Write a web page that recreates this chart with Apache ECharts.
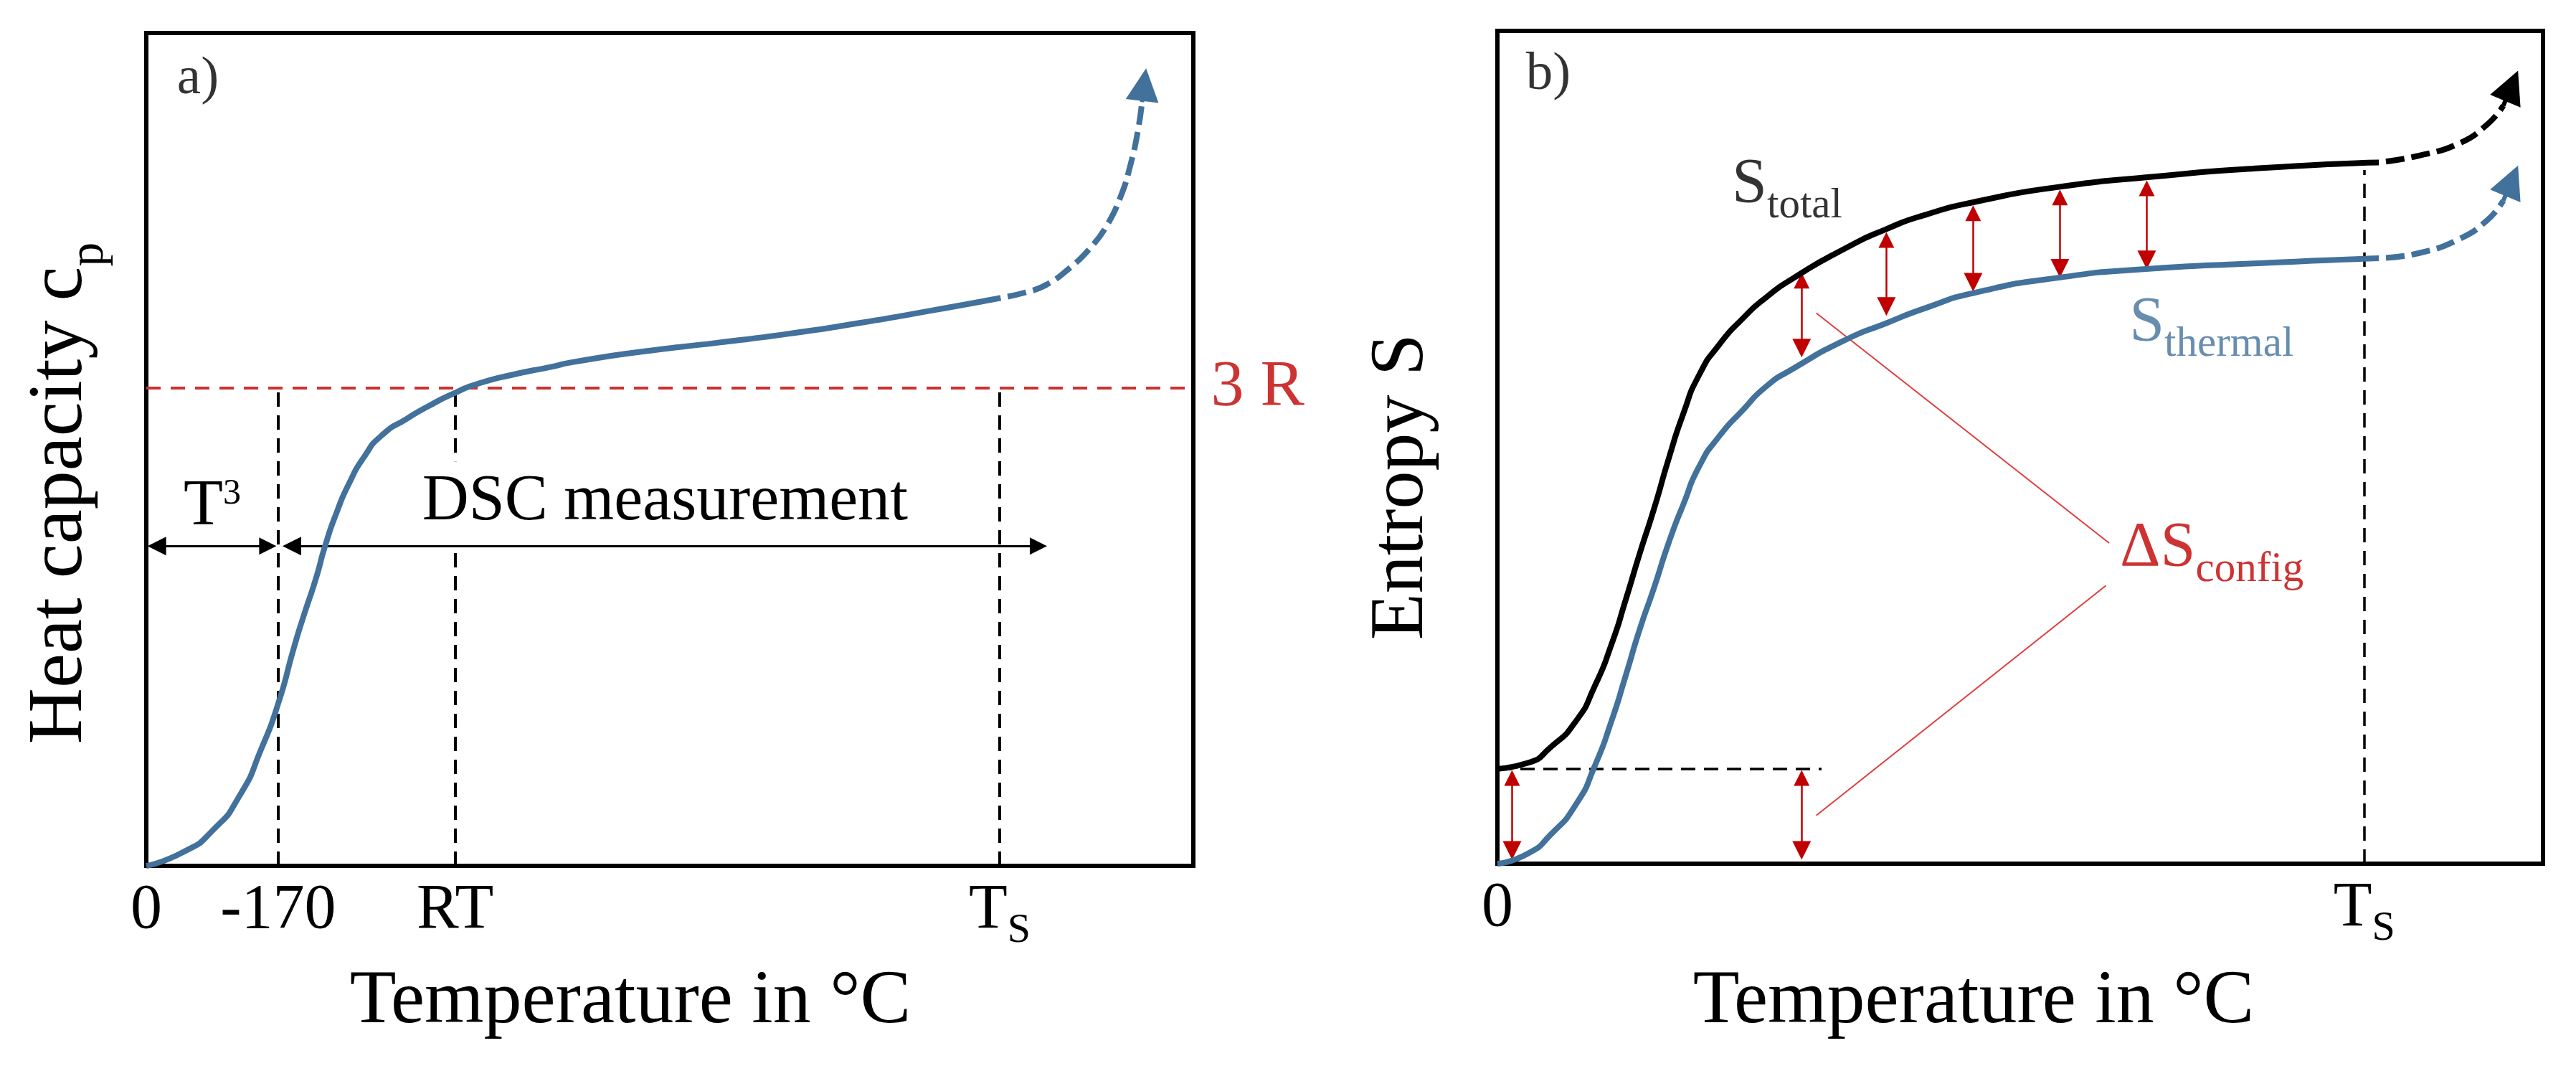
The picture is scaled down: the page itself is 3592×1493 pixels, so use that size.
<!DOCTYPE html>
<html>
<head>
<meta charset="utf-8">
<title>Heat capacity and entropy</title>
<script src="https://cdn.jsdelivr.net/npm/echarts@6/dist/echarts.min.js"></script>
<style>
  html, body { margin: 0; padding: 0; background: #fff; }
  #main { width: 3592px; height: 1493px; }
</style>
</head>
<body>
<div id="main"></div>
<script>
// both panels are schematic: axes run 0..100 with no real scale

// a) heat capacity
let cpX = [0, 3.6, 6.3, 8.9, 11.0, 12.6, 14.1, 15.0, 16.2, 17.1, 18.2, 19.4, 20.8, 22.5, 24.9, 27.1, 29.5, 31.7, 35.1, 38.6, 40.8, 47.7, 54.5, 61.4, 68.2, 75.1, 81.6]
let cpY = [0, 1.7, 4.2, 8.4, 14.1, 19.5, 26.2, 29.9, 34.5, 38.5, 42.5, 46.0, 49.1, 51.7, 53.7, 55.3, 56.8, 57.9, 59.0, 59.9, 60.5, 61.8, 62.8, 63.9, 65.2, 66.7, 68.2]
let cpDashX = [81.6, 83.8, 86.0, 88.3, 90.1, 91.7, 93.1, 94.0, 94.7, 95.1]
let cpDashY = [68.2, 68.8, 69.8, 71.9, 74.1, 76.8, 80.5, 84.2, 88.2, 91.7]
let cpHead = [[95.1, 91.7], [95.3, 93.8]]
let cpTicks = [0, 12.6, 29.5, 81.5]
let cpTickLabels = ['0', '-170', 'RT', 'Ts']
let threeR = 57.4
let cpGuides = [
    [[12.6, 0], [12.6, 57.4]],
    [[29.5, 0], [29.5, 57.4]],
    [[81.5, 0], [81.5, 57.4]]
]
let rangeArrows = [
    {name: 'T3', coords: [[1.0, 38.4], [11.6, 38.4]]},
    {name: 'DSC', coords: [[13.9, 38.4], [85.2, 38.4]]}
]

// b) entropy
let sTotX = [0, 2.9, 5.1, 7.5, 9.3, 10.9, 12.3, 13.6, 15.0, 16.4, 17.8, 19.3, 21.2, 23.5, 25.7, 28.3, 33.3, 37.2, 40.9, 45.8, 53.9, 62.0, 72.8, 84.3]
let sTotY = [11.4, 12.1, 14.0, 17.1, 21.3, 26.3, 31.8, 37.2, 42.7, 48.7, 54.1, 58.7, 62.3, 65.5, 68.0, 70.3, 73.9, 76.2, 77.9, 79.5, 81.3, 82.4, 83.5, 84.2]
let sTotDashX = [84.3, 88.1, 92.0, 94.7, 96.2]
let sTotDashY = [84.2, 85.0, 86.5, 88.8, 91.0]
let sTotHead = [[96.2, 91.0], [97.0, 93.4]]
let sThX = [0, 2.9, 5.1, 7.5, 9.3, 10.9, 12.3, 13.6, 15.0, 16.4, 17.8, 19.3, 21.2, 23.5, 25.7, 28.1, 33.3, 37.2, 40.9, 45.8, 53.9, 62.0, 72.8, 84.3]
let sThY = [0, 1.2, 3.5, 7.1, 11.7, 17.1, 22.7, 28.1, 33.2, 38.6, 43.2, 47.7, 51.3, 54.5, 57.3, 59.3, 62.9, 64.9, 66.7, 68.6, 70.4, 71.4, 72.1, 72.7]
let sThDashX = [84.3, 88.1, 92.0, 94.7, 96.2]
let sThDashY = [72.7, 73.3, 75.0, 77.3, 79.6]
let sThHead = [[96.2, 79.6], [97.0, 82.0]]
let sTicks = [0, 82.9]
let sTickLabels = ['0', 'Ts']
let sGuides = [
    [[0, 11.4], [31.0, 11.4]],
    [[82.9, 0], [82.9, 83.3]]
]
// red double arrows: x, upper head, lower head
let dSx = [1.4, 29.1, 29.1, 37.2, 45.5, 53.8, 62.1]
let dSTop = [10.3, 10.3, 70.0, 74.9, 78.1, 80.0, 81.1]
let dSBottom = [1.6, 1.6, 61.9, 66.9, 69.8, 71.5, 72.5]
let pointers = [
    [[30.5, 66.1], [58.5, 38.5]],
    [[30.5, 5.8], [58.2, 33.4]]
]

// text notes
let notesA = [{text: 'a)', x: 2.9, y: 94.5}]
let notesB = [
    {text: 'b)', x: 2.7, y: 94.7},
    {text: 'Stotal', x: 22.4, y: 81.5},
    {text: 'Sthermal', x: 60.4, y: 64.9},
    {text: 'dSconfig', x: 59.5, y: 37.8}
]

const FONT = 'Liberation Serif'
const BLUE = '#42719b'
const RED = '#c00000'

function zip(xs, ys){
    return xs.map((x, i) => [x, ys[i]])
}

let subRich = {
    m: {fontFamily: FONT, fontSize: 88, lineHeight: 88},
    sub: {fontFamily: FONT, fontSize: 59, lineHeight: 59, padding: [59, 0, 0, 0]},
    p: {fontFamily: FONT, fontSize: 75}
}
let noteText = {
    'a)': '{p|a)}',
    'b)': '{p|b)}',
    'Stotal': '{m|S}{sub|total}',
    'Sthermal': '{m|S}{sub|thermal}',
    'dSconfig': '{m|\u0394S}{sub|config}'
}
let noteColor = {'Sthermal': BLUE, 'dSconfig': RED}

function tickFormatter(ticks, labels){
    return function(v){
        let i = ticks.findIndex(t => Math.abs(t - v) < 1e-6)
        let lab = labels[i]
        if(lab === 'Ts') return '{t|T}{s|S}'
        return '{n|' + lab + '}'
    }
}
let tickRich = {
    n: {fontFamily: FONT, fontSize: 88, lineHeight: 114, color: '#000'},
    t: {fontFamily: FONT, fontSize: 88, lineHeight: 114, color: '#000'},
    s: {fontFamily: FONT, fontSize: 58, lineHeight: 58, padding: [56, 0, 0, 0], color: '#000'}
}

function xAxisOf(gridIndex, ticks, labels, gap, shift){
    return {
        type: 'value', gridIndex: gridIndex, min: 0, max: 100,
        axisLine: {show: false}, axisTick: {show: false}, splitLine: {show: false},
        axisLabel: {
            customValues: ticks, margin: 6,
            formatter: tickFormatter(ticks, labels), rich: tickRich
        },
        name: 'Temperature in \u00b0C', nameLocation: 'middle', nameGap: gap,
        nameTextStyle: {fontFamily: FONT, fontSize: 106, color: '#000', padding: [0, shift, 0, 0]}
    }
}

function yAxisOf(gridIndex, name, gap, shift, rich){
    return {
        type: 'value', gridIndex: gridIndex, min: 0, max: 100,
        axisLine: {show: false}, axisTick: {show: false}, splitLine: {show: false},
        axisLabel: {show: false},
        name: name, nameLocation: 'middle', nameRotate: 90, nameGap: gap,
        nameTextStyle: {fontFamily: FONT, fontSize: 106, color: '#000', padding: [0, shift, 0, 0], rich: rich}
    }
}

function curve(idx, pts, color, dashed){
    return {
        type: 'line', xAxisIndex: idx, yAxisIndex: idx,
        data: pts, smooth: dashed ? 0.5 : 0.65,
        symbol: 'none', silent: true,
        lineStyle: dashed
            ? {color: color, width: 8, type: [26, 10], dashOffset: 26}
            : {color: color, width: 8}
    }
}

function head(idx, coords, color){
    return {
        type: 'lines', coordinateSystem: 'cartesian2d', xAxisIndex: idx, yAxisIndex: idx,
        symbol: ['none', 'triangle'], symbolSize: [28, 46],
        lineStyle: {color: color, width: 6, opacity: 1},
        data: [{coords: coords}]
    }
}

function notes(idx, list){
    return {
        type: 'scatter', xAxisIndex: idx, yAxisIndex: idx,
        symbolSize: 1, itemStyle: {color: 'rgba(0,0,0,0)'}, silent: true,
        data: list.map(n => ({
            value: [n.x, n.y],
            label: {
                show: true, position: 'right', distance: 0,
                formatter: noteText[n.text], rich: subRich,
                color: noteColor[n.text] || '#000'
            }
        }))
    }
}

let myChart = echarts.init(document.getElementById('main'))

let option = {
    backgroundColor: '#fff',
    animation: false,
    grid: [
        {left: 204, top: 46, width: 1460, height: 1161, show: true, borderColor: '#000', borderWidth: 6, outerBoundsMode: 'none'},
        {left: 2088, top: 43, width: 1458, height: 1161, show: true, borderColor: '#000', borderWidth: 6, outerBoundsMode: 'none'}
    ],
    xAxis: [
        xAxisOf(0, cpTicks, cpTickLabels, 137, 110),
        xAxisOf(1, sTicks, sTickLabels, 140, 130)
    ],
    yAxis: [
        yAxisOf(0, '{m|Heat capacity c}{sub|p}', 65, 122, {
            m: {fontFamily: FONT, fontSize: 108, lineHeight: 108, color: '#000'},
            sub: {fontFamily: FONT, fontSize: 67, lineHeight: 67, padding: [80, 0, 0, 0], color: '#000'}
        }),
        yAxisOf(1, 'Entropy S', 80, 110)
    ],
    series: [
        // ---- a)
        {
            type: 'lines', coordinateSystem: 'cartesian2d', xAxisIndex: 0, yAxisIndex: 0,
            lineStyle: {color: '#000', width: 4, type: [20, 12], opacity: 1},
            data: cpGuides.map(c => ({coords: c}))
        },
        {
            type: 'lines', coordinateSystem: 'cartesian2d', xAxisIndex: 0, yAxisIndex: 0,
            clip: false,
            lineStyle: {color: '#d03030', width: 4, type: [20, 14], opacity: 1},
            data: [{coords: [[0, threeR], [100, threeR]]}]
        },
        {
            // "3 R" sits just outside the right edge of the frame
            type: 'scatter', xAxisIndex: 0, yAxisIndex: 0, clip: false,
            symbolSize: 1, itemStyle: {color: 'rgba(0,0,0,0)'}, silent: true,
            data: [[100, threeR]],
            label: {
                show: true, position: 'right', distance: 24, formatter: '3 R',
                fontFamily: FONT, fontSize: 92, color: RED, padding: [0, 0, 14, 0]
            }
        },
        curve(0, zip(cpX, cpY), BLUE, false),
        curve(0, zip(cpDashX, cpDashY), BLUE, true),
        head(0, cpHead, BLUE),
        {
            type: 'lines', coordinateSystem: 'cartesian2d', xAxisIndex: 0, yAxisIndex: 0,
            symbol: ['triangle', 'triangle'], symbolSize: [26, 24],
            lineStyle: {color: '#000', width: 3, opacity: 1},
            data: rangeArrows.map(a => ({
                coords: a.coords,
                label: a.name === 'T3'
                    ? {
                        show: true, position: 'insideMiddleTop', distance: 9,
                        formatter: '{m|T}{sup|3}',
                        rich: {
                            m: {fontFamily: FONT, fontSize: 90, lineHeight: 90, color: '#000'},
                            sup: {fontFamily: FONT, fontSize: 50, lineHeight: 50, padding: [0, 0, 36, 0], color: '#000'}
                        }
                    }
                    : {
                        show: true, position: 'insideMiddleTop', distance: 2,
                        formatter: 'DSC measurement',
                        fontFamily: FONT, fontSize: 90, color: '#000',
                        backgroundColor: '#fff', padding: [12, 4, 14, 4]
                    }
            }))
        },
        notes(0, notesA),

        // ---- b)
        {
            type: 'lines', coordinateSystem: 'cartesian2d', xAxisIndex: 1, yAxisIndex: 1,
            lineStyle: {color: '#000', width: 3.5, type: [20, 12], opacity: 1},
            data: sGuides.map(c => ({coords: c}))
        },
        {
            type: 'lines', coordinateSystem: 'cartesian2d', xAxisIndex: 1, yAxisIndex: 1,
            lineStyle: {color: '#e03c3c', width: 2, opacity: 1},
            data: pointers.map(c => ({coords: c}))
        },
        curve(1, zip(sThX, sThY), BLUE, false),
        curve(1, zip(sThDashX, sThDashY), BLUE, true),
        head(1, sThHead, BLUE),
        curve(1, zip(sTotX, sTotY), '#000', false),
        curve(1, zip(sTotDashX, sTotDashY), '#000', true),
        head(1, sTotHead, '#000'),
        {
            type: 'lines', coordinateSystem: 'cartesian2d', xAxisIndex: 1, yAxisIndex: 1,
            symbol: ['triangle', 'triangle'], symbolSize: [22, 26],
            lineStyle: {color: RED, width: 2.5, opacity: 1},
            data: dSx.map((x, i) => ({coords: [[x, dSTop[i]], [x, dSBottom[i]]]}))
        },
        notes(1, notesB)
    ]
}

myChart.setOption(option)
</script>
</body>
</html>
